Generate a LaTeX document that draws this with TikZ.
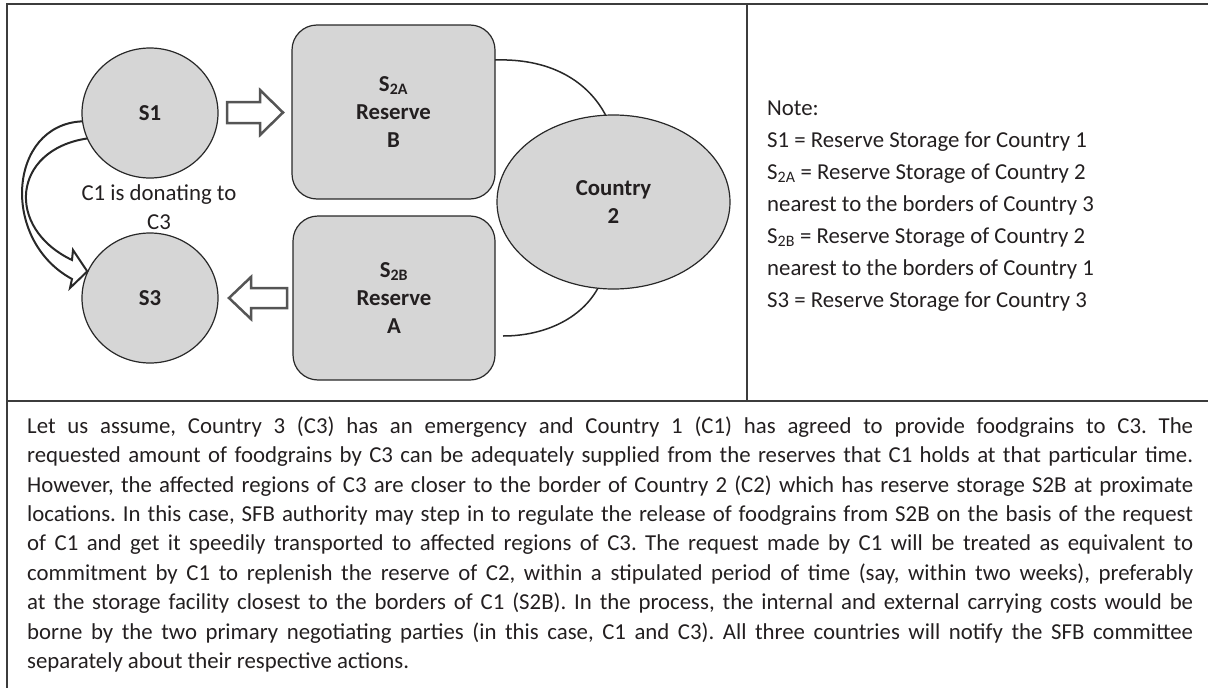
\documentclass[tikz,border=0pt]{standalone}
\usepackage{fontspec}
\setmainfont{Carlito}
\usetikzlibrary{shapes.geometric}
\definecolor{shapefill}{RGB}{214,214,214}
\definecolor{edge}{RGB}{40,40,40}
\definecolor{arrowgray}{RGB}{85,85,85}
\definecolor{framegray}{RGB}{60,60,60}
\definecolor{ink}{RGB}{35,31,32}
\frenchspacing
\tikzset{
  circnode/.style={ellipse, draw=edge, line width=1.2pt, fill=shapefill, inner sep=0pt,
    font=\fontsize{22.8}{28}\selectfont\bfseries, text=ink, align=center},
  boxnode/.style={rectangle, rounded corners=25pt, draw=edge, line width=1.2pt, fill=shapefill,
    inner sep=0pt, font=\fontsize{22.8}{28}\selectfont\bfseries, text=ink, align=center},
  blockarrow/.style={draw=arrowgray, line width=2.5pt, fill=white, line join=miter},
  curvearrow/.style={draw=edge, line width=2pt, line join=miter},
  linkarc/.style={draw=edge, line width=1.5pt},
  framerule/.style={draw=framegray, line width=2pt},
  plaintext/.style={inner sep=0pt, text=ink, font=\fontsize{22.8}{29}\selectfont}
}
\begin{document}
\begin{tikzpicture}[x=1pt,y=-1pt]
\useasboundingbox (0,0) rectangle (1208,688);
% frame
\draw[framerule] (7,688) -- (7,3.5) -- (1208,3.5);
\draw[framerule] (7,400.5) -- (1208,400.5);
\draw[framerule] (747,3.5) -- (747,400.5);
% arcs behind Country 2
\draw[linkarc] (495,60) .. controls (555,58) and (592,85) .. (608,120);
\draw[linkarc] (601,282) .. controls (585,318) and (545,336) .. (503,336);
% curved block arrow S1 -> S3 (drawn first, nodes cover its ends)
\coordinate (cA) at (72,279);
\coordinate (cB) at (70,288);
\coordinate (cC) at (73,250);
\coordinate (cD) at (72,260);
\node[circnode, minimum width=136pt, minimum height=130pt] (s1) at (150,113) {S1};
\node[circnode, minimum width=136pt, minimum height=130pt] (s3) at (150,298) {S3};
\draw[curvearrow] (s1.187) .. controls (8,125) and (0,240) .. (cA) -- (cB) -- (s3.157) -- (cC) -- (cD)
   .. controls (5,228) and (12,150) .. (s1.202);
\node[boxnode, minimum width=203pt, minimum height=174pt] (s2a) at (393.5,112)
   {S\textsubscript{2A}\\Reserve\\B};
\node[boxnode, minimum width=202pt, minimum height=164pt] (s2b) at (394,298)
   {S\textsubscript{2B}\\Reserve\\A};
\node[circnode, minimum width=233pt, minimum height=174pt] (c2) at (613.5,202) {Country\\2};
% straight block arrows
\draw[blockarrow] (227,102) -- (260,102) -- (260,90) -- (283,112.5) -- (260,135) -- (260,123) -- (227,123) -- cycle;
\draw[blockarrow] (287,288) -- (251,288) -- (251,277) -- (229,298) -- (251,319) -- (251,308) -- (287,308) -- cycle;
% label
\node[plaintext, align=center] (don) at (159,207.5) {C1 is donating to\\C3};
% note
\node[plaintext, anchor=west, align=left, font=\fontsize{22.8}{32}\selectfont] (note) at (767,206)
  {Note:\\
   S1 = Reserve Storage for Country 1\\
   S\textsubscript{2A} = Reserve Storage of Country 2\\
   nearest to the borders of Country 3\\
   S\textsubscript{2B} = Reserve Storage of Country 2\\
   nearest to the borders of Country 1\\
   S3 = Reserve Storage for Country 3};
% paragraph
\node[plaintext, anchor=north west, text width=1166pt, align=justify, font=\fontsize{22.8}{29.4}\selectfont] (para) at (27,416.5)
  {\tolerance=10000 \emergencystretch=20pt Let us assume, Country 3 (C3) has an emergency and Country 1 (C1) has agreed to provide foodgrains to C3. The\linebreak
   requested amount of foodgrains by C3 can be adequately supplied from the reserves that C1 holds at that particular time.\linebreak
   However, the affected regions of C3 are closer to the border of Country 2 (C2) which has reserve storage S2B at proximate\linebreak
   locations. In this case, SFB authority may step in to regulate the release of foodgrains from S2B on the basis of the request\linebreak
   of C1 and get it speedily transported to affected regions of C3. The request made by C1 will be treated as equivalent to\linebreak
   commitment by C1 to replenish the reserve of C2, within a stipulated period of time (say, within two weeks), preferably\linebreak
   at the storage facility closest to the borders of C1 (S2B). In the process, the internal and external carrying costs would be\linebreak
   borne by the two primary negotiating parties (in this case, C1 and C3). All three countries will notify the SFB committee\linebreak
   separately about their respective actions.};
\end{tikzpicture}
\end{document}
